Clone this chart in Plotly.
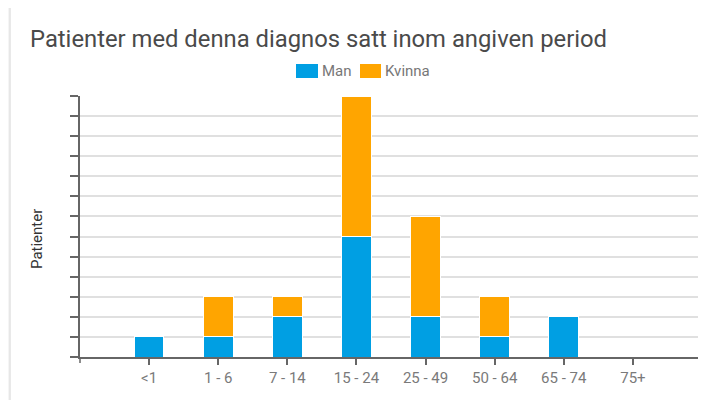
import plotly.graph_objects as go

categories = ["<1", "1 - 6", "7 - 14", "15 - 24", "25 - 49", "50 - 64", "65 - 74", "75+"]
man = [1, 1, 2, 6, 2, 1, 2, 0]
kvinna = [0, 2, 1, 7, 5, 2, 0, 0]
series_names = ["Man", "Kvinna"]
series_colors = ["#009fe3", "#ffa500"]

OFF = 8  # default page body margin
W, H = 706 - OFF, 400 - OFF
L, R, T, B = 80 - OFF, 4, 96 - OFF, 43
PW, PH = W - L - R, H - T - B

def px(x):
    # page pixel x -> paper coordinate
    return (x - OFF - L) / PW

def py(y):
    # page pixel y -> paper coordinate
    return (H - B - (y - OFF)) / PH

fig = go.Figure()
for name, vals, col in zip(series_names, [man, kvinna], series_colors):
    fig.add_trace(go.Bar(name=name, x=categories, y=vals, showlegend=False,
                         marker=dict(color=col, line=dict(color="white", width=1))))

fig.update_layout(
    width=W, height=H,
    margin=dict(l=L, r=R, t=T, b=B),
    barmode="stack", bargap=0.57,
    paper_bgcolor="#f5f5f5", plot_bgcolor="rgba(0,0,0,0)",
    font=dict(family="Roboto", color="#555"),
    title=dict(text="Patienter med denna diagnos satt inom angiven period", xref="container",
               x=(30 - OFF) / W, xanchor="left", y=1 - (39 - OFF) / H, yanchor="middle",
               font=dict(size=23.8, color="#4a4a4a", family="Roboto")),
    showlegend=False,
)
fig.update_xaxes(type="category", range=[-1, 8], showgrid=False, showline=True, linecolor="#666",
                 linewidth=1.5, ticks="outside", ticklen=6, tickcolor="#666", tickwidth=1.5,
                 tickfont=dict(size=15, color="#7a7a7a", family="Roboto"))
fig.update_yaxes(range=[0, 13], dtick=1, showticklabels=False, showgrid=True, gridcolor="#e0e0e0",
                 gridwidth=2, showline=True, linecolor="#666", linewidth=1.5, ticks="outside", ticklen=8,
                 tickcolor="#666", tickwidth=1.5, zeroline=False)

shapes = [
    dict(type="path", xref="paper", yref="paper",
         path=(f"M {px(10)} {py(420)} L {px(10)} {py(9)} Q {px(10)} {py(4)} {px(15)} {py(4)} "
               f"L {px(730)} {py(4)} L {px(730)} {py(420)} Z"),
         fillcolor="white", line=dict(color="#e2e2e2", width=1.5), layer="below"),
    dict(type="line", xref="paper", yref="paper", x0=1, x1=1, y0=0, y1=1,
         line=dict(color="#e0e0e0", width=2), layer="below"),
    dict(type="line", xref="paper", yref="paper", x0=0, x1=0, y0=0, y1=py(363),
         line=dict(color="#666", width=1.5)),
]
# manual legend: swatch + label
legend_swatch_x = [(296, 318), (360, 381)]
legend_text_x = [320, 383]
for (x0, x1), tx, name, col in zip(legend_swatch_x, legend_text_x, series_names, series_colors):
    shapes.append(dict(type="rect", xref="paper", yref="paper", x0=px(x0), x1=px(x1), y0=py(78), y1=py(64),
                       fillcolor=col, line=dict(width=0)))
    fig.add_annotation(text=name, xref="paper", yref="paper", x=px(tx), y=py(71), xanchor="left",
                       yanchor="middle", showarrow=False, font=dict(size=15, color="#777", family="Roboto"))
fig.update_layout(shapes=shapes)
fig.add_annotation(text="Patienter", xref="paper", yref="paper", x=px(37), y=py(239), textangle=-90,
                   xanchor="center", yanchor="middle",
                   showarrow=False, font=dict(size=15, color="#333", family="Roboto"))

fig.write_html("out.html")
